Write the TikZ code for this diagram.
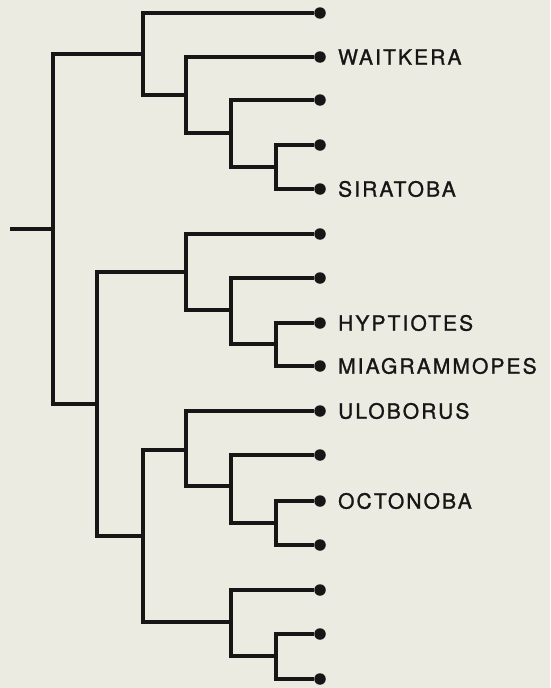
\documentclass[tikz,border=0pt]{standalone}
\usepackage{fontspec}
\newfontfamily\taxonfont[LetterSpace=10,FakeBold=1.2]{TeX Gyre Heros}
\usetikzlibrary{positioning}
\definecolor{paper}{RGB}{236,235,225}
\definecolor{ink}{RGB}{22,22,22}
\tikzset{
  branch/.style={ink, line width=3.2pt, line join=miter},
  leaf/.style={circle, fill=ink, inner sep=0pt, minimum size=11.5pt},
  taxon/.style={font=\taxonfont\fontsize{21}{25}\selectfont, text=ink, inner sep=0pt, anchor=west}
}
\begin{document}
\begin{tikzpicture}[x=1pt, y=-1pt]
	\fill[paper] (0,0) rectangle (550,688);
	% tips
	\foreach \i/\y in {1/13,2/57,3/100,4/145,5/189,6/234,7/278,8/323,9/366,10/411,11/455,12/501,13/545,14/590,15/634,16/679}
		\node[leaf] (l\i) at (320,\y) {};
	% forks
	\coordinate (base) at (10,229);
	\coordinate (root) at (53,229);
	\coordinate (a) at (143,54);
	\coordinate (b) at (186,95);
	\coordinate (c) at (231,133);
	\coordinate (d) at (276,167);
	\coordinate (e) at (97,404);
	\coordinate (f) at (186,272);
	\coordinate (g) at (231,310);
	\coordinate (h) at (276,344);
	\coordinate (k) at (143,536);
	\coordinate (m) at (186,450);
	\coordinate (n) at (231,486);
	\coordinate (p) at (276,523);
	\coordinate (q) at (231,622);
	\coordinate (r) at (276,656);
	\draw[branch] (base) -- (root);
	\foreach \from/\to in {root/a,root/e,a/l1,a/b,b/l2,b/c,c/l3,c/d,d/l4,d/l5,
		e/f,e/k,f/l6,f/g,g/l7,g/h,h/l8,h/l9,
		k/m,k/q,m/l10,m/n,n/l11,n/p,p/l12,p/l13,q/l14,q/r,r/l15,r/l16}
		\draw[branch] (\from) |- (\to);
	% names
	\node[taxon, right=12pt of l2] (waitkera) {WAITKERA};
	\node[taxon, right=12pt of l5] (siratoba) {SIRATOBA};
	\node[taxon, right=12pt of l8] (hyptiotes) {HYPTIOTES};
	\node[taxon, right=12pt of l9] (miagrammopes) {MIAGRAMMOPES};
	\node[taxon, right=12pt of l10] (uloborus) {ULOBORUS};
	\node[taxon, right=12pt of l12] (octonoba) {OCTONOBA};
\end{tikzpicture}
\end{document}
